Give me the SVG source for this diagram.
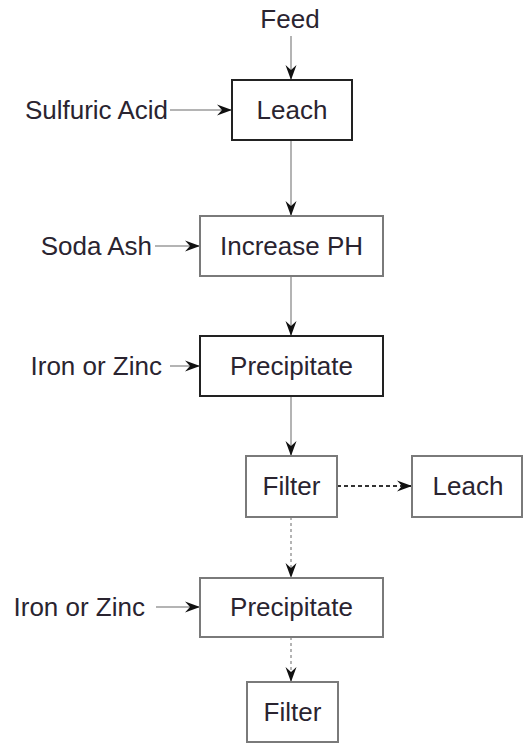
<svg xmlns="http://www.w3.org/2000/svg" width="523" height="743" viewBox="0 0 523 743">
<style>
text{font-family:"Liberation Sans",Arial,sans-serif;font-size:26px;fill:#2a2430}
.lbl{text-anchor:end}
.nt{text-anchor:middle}
.box{fill:#fff;stroke:#7a7a7a;stroke-width:2}
.box.dark{stroke:#222}
.c{fill:none;stroke:#b4b4b4;stroke-width:2;marker-end:url(#ah)}
.dg{stroke-dasharray:3 3}
.dk{stroke:#333;stroke-dasharray:4 3}
</style>
<defs>
<marker id="ah" markerUnits="userSpaceOnUse" markerWidth="20" markerHeight="14" viewBox="-16 -7 17 14" refX="0" refY="0" orient="auto">
<path d="M0,0 L-15,-5.5 L-10,0 L-15,5.5 Z" fill="#111"/>
</marker>
</defs>
<rect width="523" height="743" fill="#fff"/>
<g id="connectors">
<path class="c" d="M291,36 V80"/>
<path class="c" d="M170,110 H232"/>
<path class="c" d="M291,140 V216"/>
<path class="c" d="M155,246 H200"/>
<path class="c" d="M291,276 V336"/>
<path class="c" d="M170,366 H200"/>
<path class="c" d="M291,396 V456"/>
<path class="c dk" d="M337,486 H412"/>
<path class="c dg" d="M291,517 V578"/>
<path class="c" d="M156,607 H200"/>
<path class="c dg" d="M291,637 V682"/>
</g>
<g id="feed"><text class="nt" x="290" y="28">Feed</text></g>
<g id="sulfuric"><text class="lbl" x="168" y="119">Sulfuric Acid</text></g>
<g id="soda"><text class="lbl" x="152" y="255">Soda Ash</text></g>
<g id="iron1"><text class="lbl" x="162" y="375">Iron or Zinc</text></g>
<g id="iron2"><text class="lbl" x="145" y="616">Iron or Zinc</text></g>
<g id="leach1"><rect class="box dark" x="232" y="80" width="120" height="60"/><text class="nt" x="292" y="119">Leach</text></g>
<g id="increase"><rect class="box" x="200" y="216" width="183" height="60"/><text class="nt" x="291.5" y="255">Increase PH</text></g>
<g id="precip1"><rect class="box dark" x="200" y="336" width="183" height="60"/><text class="nt" x="291.5" y="375">Precipitate</text></g>
<g id="filter1"><rect class="box" x="246" y="456" width="91" height="61"/><text class="nt" x="291.5" y="495">Filter</text></g>
<g id="leach2"><rect class="box" x="412" y="456" width="110" height="61"/><text class="nt" x="468" y="495">Leach</text></g>
<g id="precip2"><rect class="box" x="200" y="578" width="183" height="59"/><text class="nt" x="291.5" y="616">Precipitate</text></g>
<g id="filter2"><rect class="box" x="247" y="682" width="91" height="60"/><text class="nt" x="292.5" y="721">Filter</text></g>
</svg>
